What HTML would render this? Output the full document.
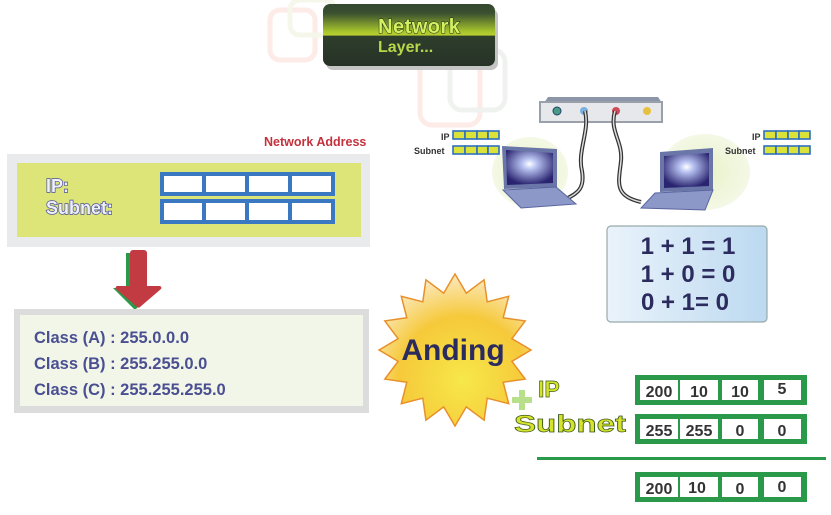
<!DOCTYPE html>
<html><head><meta charset="utf-8"><style>
body{margin:0;width:831px;height:515px;overflow:hidden;background:#fff;font-family:"Liberation Sans",sans-serif;}
</style></head><body>
<svg width="831" height="515" xmlns="http://www.w3.org/2000/svg" style="position:absolute;left:0;top:0">
<defs>
<linearGradient id="tg" x1="0" y1="0" x2="0" y2="1"><stop offset="0" stop-color="#34482f"/><stop offset="0.15" stop-color="#3a5030"/><stop offset="0.44" stop-color="#a6c42c"/><stop offset="0.5" stop-color="#b8d030"/><stop offset="0.52" stop-color="#2e3e2c"/><stop offset="1" stop-color="#263226"/></linearGradient>
<linearGradient id="eq" x1="0" y1="0" x2="1" y2="0"><stop offset="0" stop-color="#eaf3fb"/><stop offset="1" stop-color="#bcd9f0"/></linearGradient>
<radialGradient id="st" cx="0.55" cy="0.7" r="0.7"><stop offset="0" stop-color="#f7e84a"/><stop offset="0.6" stop-color="#f6c93a"/><stop offset="1" stop-color="#fbe9c0"/></radialGradient>
<radialGradient id="scr" cx="0.5" cy="0.4" r="0.6"><stop offset="0" stop-color="#fff"/><stop offset="0.25" stop-color="#b9c4f2"/><stop offset="1" stop-color="#2a2470"/></radialGradient>
<radialGradient id="halo" cx="0.5" cy="0.5" r="0.5"><stop offset="0" stop-color="#e8f2c8"/><stop offset="1" stop-color="#f4f8e6"/></radialGradient>
</defs>
<g fill="none" stroke-width="5" opacity="0.15">
<rect x="270" y="10" width="45" height="50" rx="10" stroke="#f08060"/>
<rect x="290" y="0" width="45" height="35" rx="10" stroke="#c0d080"/>
<rect x="420" y="60" width="60" height="65" rx="12" stroke="#f08060"/>
<rect x="450" y="50" width="55" height="60" rx="12" stroke="#a0b0a0"/>
</g>
<rect x="326" y="9" width="172" height="61" rx="7" fill="#c4c4c4"/>
<rect x="323" y="4" width="172" height="62" rx="7" fill="url(#tg)"/>
<text x="378" y="33" font-size="20" font-weight="bold" fill="#d4f060" stroke="#1e2e18" stroke-width="1" paint-order="stroke" letter-spacing="0.5">Network</text>
<text x="378" y="52" font-size="16" font-weight="bold" fill="#b8d64a">Layer...</text>
<text x="264" y="146" font-size="12.5" font-weight="bold" fill="#c3323d">Network Address</text>
<rect x="7" y="154" width="363" height="93" fill="#e9eaeb"/>
<rect x="17" y="163" width="344" height="74" fill="#dde478"/>
<text x="46" y="192" font-size="18" font-weight="bold" fill="#eef0fa" stroke="#4a4e9c" stroke-width="1.4" paint-order="stroke">IP:</text>
<text x="46" y="214" font-size="18" font-weight="bold" fill="#eef0fa" stroke="#4a4e9c" stroke-width="1.4" paint-order="stroke">Subnet:</text>
<g fill="#fff" stroke="#3b78c2" stroke-width="4">
<rect x="162" y="174" width="42" height="20"/><rect x="204" y="174" width="43" height="20"/><rect x="247" y="174" width="43" height="20"/><rect x="290" y="174" width="43" height="20"/>
<rect x="162" y="201" width="42" height="21"/><rect x="204" y="201" width="43" height="21"/><rect x="247" y="201" width="43" height="21"/><rect x="290" y="201" width="43" height="21"/>
</g>
<path d="M128 252 h14 a3 3 0 0 1 3 3 v32 h14 l-22 22 l-22 -22 h13 z" fill="#2a9a4a" transform="translate(-2,1)"/>
<path d="M130 250 h14 a3 3 0 0 1 3 3 v33 h13 a2 2 0 0 1 1 3 l-21 18 a2 2 0 0 1 -3 0 l-21 -18 a2 2 0 0 1 1 -3 h13 v-33 a3 3 0 0 1 3 -3 z" fill="#c33b42"/>
<rect x="14" y="309" width="355" height="104" fill="#dcdcdc"/>
<rect x="20" y="315" width="343" height="91" fill="#f2f6e8"/>
<g font-size="16.5" font-weight="bold" fill="#4a4f92">
<text x="34" y="343">Class (A) : 255.0.0.0</text>
<text x="34" y="369">Class (B) : 255.255.0.0</text>
<text x="34" y="395">Class (C) : 255.255.255.0</text>
</g>
<ellipse cx="530" cy="172" rx="38" ry="35" fill="url(#halo)"/>
<ellipse cx="705" cy="172" rx="45" ry="38" fill="url(#halo)"/>
<path d="M548 97 h110 l4 6 h-118 z" fill="#8a95a8"/>
<rect x="540" y="102" width="122" height="20" fill="#e6e8ec" stroke="#9aa0aa" stroke-width="2"/>
<circle cx="557" cy="111" r="4" fill="#4a9a8a" stroke="#246" stroke-width="1"/>
<circle cx="584" cy="111" r="4" fill="#7ab0e0"/>
<circle cx="616" cy="111" r="4" fill="#d04a5a"/>
<circle cx="647" cy="111" r="4" fill="#e8c040"/>
<path d="M585 111 c5 20 -8 40 -3 60 c3 18 -5 22 -14 27" fill="none" stroke="#333" stroke-width="4"/>
<path d="M585 111 c5 20 -8 40 -3 60 c3 18 -5 22 -14 27" fill="none" stroke="#ddd" stroke-width="1.5"/>
<path d="M615 111 c-6 20 8 30 6 50 c-2 20 -8 35 20 41" fill="none" stroke="#333" stroke-width="4"/>
<path d="M615 111 c-6 20 8 30 6 50 c-2 20 -8 35 20 41" fill="none" stroke="#ddd" stroke-width="1.5"/>
<path d="M502 146 l55 3 l0 38 l-53 2 z" fill="#6a75a8"/>
<path d="M506 150 l47 3 l0 30 l-46 2 z" fill="url(#scr)"/>
<path d="M503 190 l53 -3 l20 17 l-55 4 z" fill="#8c98c8" stroke="#5a64a0" stroke-width="1"/>
<path d="M660 152 l53 -4 l0 42 l-53 2 z" fill="#6a75a8"/>
<path d="M664 156 l45 -3 l0 33 l-45 2 z" fill="url(#scr)"/>
<path d="M655 193 l58 -3 l-8 20 l-64 -2 z" fill="#8c98c8" stroke="#5a64a0" stroke-width="1"/>
<g font-size="9" font-weight="bold" fill="#333">
<text x="441" y="140">IP</text><text x="414" y="154">Subnet</text>
<text x="752" y="140">IP</text><text x="725" y="154">Subnet</text>
</g>
<g fill="#dbe23a" stroke="#2f6fc0" stroke-width="1.6">
<rect x="453" y="131" width="12" height="8"/><rect x="465" y="131" width="12" height="8"/><rect x="477" y="131" width="11" height="8"/><rect x="488" y="131" width="11" height="8"/>
<rect x="453" y="146" width="12" height="8"/><rect x="465" y="146" width="12" height="8"/><rect x="477" y="146" width="11" height="8"/><rect x="488" y="146" width="11" height="8"/>
<rect x="764" y="131" width="12" height="8"/><rect x="776" y="131" width="12" height="8"/><rect x="788" y="131" width="11" height="8"/><rect x="799" y="131" width="11" height="8"/>
<rect x="764" y="146" width="12" height="8"/><rect x="776" y="146" width="12" height="8"/><rect x="788" y="146" width="11" height="8"/><rect x="799" y="146" width="11" height="8"/>
</g>
<rect x="607" y="226" width="160" height="96" rx="4" fill="url(#eq)" stroke="#9aa" stroke-width="1.2"/>
<g font-size="24" font-weight="bold" fill="#2b2b5e" text-anchor="middle">
<text x="688" y="254">1 + 1 = 1</text>
<text x="688" y="282">1 + 0 = 0</text>
<text x="685" y="310">0 + 1= 0</text>
</g>
<polygon points="455,274 466.3,293.1 484.1,279.8 487.2,301.8 508.7,296.3 503.2,317.8 525.2,320.9 511.9,338.7 531,350 511.9,361.3 525.2,379.1 503.2,382.2 508.7,403.7 487.2,398.2 484.1,420.2 466.3,406.9 455,426 443.7,406.9 425.9,420.2 422.8,398.2 401.3,403.7 406.8,382.2 384.8,379.1 398.1,361.3 379,350 398.1,338.7 384.8,320.9 406.8,317.8 401.3,296.3 422.8,301.8 425.9,279.8 443.7,293.1" fill="url(#st)" stroke="#e8902a" stroke-width="1.5"/>
<text x="453" y="360" font-size="30" font-weight="bold" fill="#2b2b5e" text-anchor="middle">Anding</text>
<path d="M512 400 h20 M522 390 v20" stroke="#b8e08a" stroke-width="6"/>
<text x="538" y="397" font-size="23" font-weight="bold" fill="#d6e32a" stroke="#3a5a20" stroke-width="0.7">IP</text>
<text x="514" y="432" font-size="24" font-weight="bold" fill="#d6e32a" stroke="#3a5a20" stroke-width="0.7" textLength="112" lengthAdjust="spacingAndGlyphs">Subnet</text>
<g fill="#2a9a4a">
<rect x="635" y="375" width="172" height="30"/>
<rect x="635" y="414" width="172" height="30"/>
<rect x="635" y="472" width="172" height="30"/>
<rect x="537" y="457" width="289" height="3"/>
</g>
<g fill="#fff">
<rect x="640" y="380" width="38" height="20"/><rect x="680" y="380" width="38" height="20"/><rect x="722" y="380" width="36" height="20"/><rect x="764" y="380" width="37" height="20"/>
<rect x="640" y="419" width="38" height="20"/><rect x="680" y="419" width="38" height="20"/><rect x="722" y="419" width="36" height="20"/><rect x="764" y="419" width="37" height="20"/>
<rect x="640" y="477" width="38" height="20"/><rect x="680" y="477" width="38" height="20"/><rect x="722" y="477" width="36" height="20"/><rect x="764" y="477" width="37" height="20"/>
</g>
<g font-size="16" font-weight="bold" fill="#333" text-anchor="middle">
<text x="659" y="397">200</text><text x="699" y="397">10</text><text x="740" y="397">10</text><text x="782" y="394">5</text>
<text x="659" y="436">255</text><text x="699" y="436">255</text><text x="740" y="436">0</text><text x="782" y="436">0</text>
<text x="659" y="494">200</text><text x="697" y="493">10</text><text x="740" y="494">0</text><text x="782" y="492">0</text>
</g>
</svg>
</body></html>
